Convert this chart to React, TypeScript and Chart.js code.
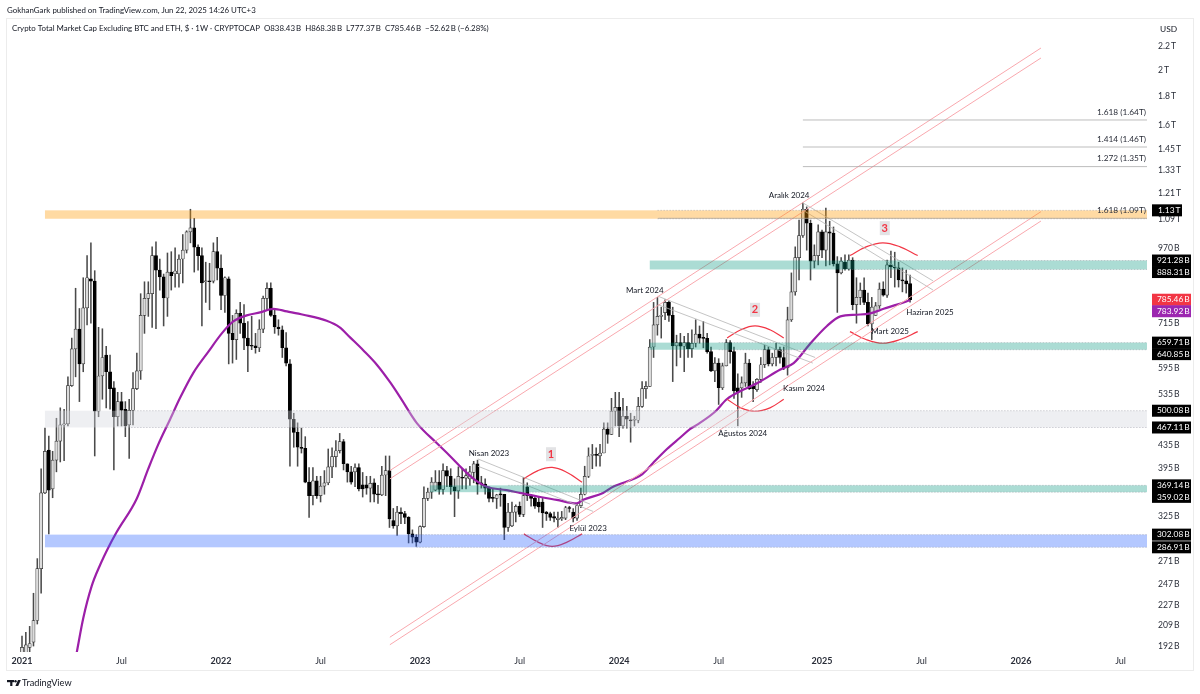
import React, { useEffect, useRef } from "react";
import { Chart, registerables } from "chart.js";

Chart.register(...registerables);

const opens = [187,187,191,195,213,263,358,426,364,409, 442,472,474,554,643,697,605,760,855,847, 499,576,627,586,549,488,519,503,472,501, 547,588,737,790,805,940,886,862,791,879, 873,873,927,961,1035,1052,973,940,845,847, 847,955,893,799,855,685,668,743,714,672, 651,651,646,697,790,823,737,703,695,646, 605,483,458,431,429,374,354,376,354,368, 373,398,415,425,441,403,390,390,397,370, 370,365,373,356,355,385,392,320,313,331, 329,324,303,299,293,312,350,359,362,374, 363,392,383,367,361,381,380,379,389,403, 373,371,365,351,350,356,356,311,313,331, 339,328,367,354,350,345,345,331,329,325, 321,322,323,337,331,323,340,356,383,417, 419,416,421,464,454,499,507,470,489,481, 481,481,509,547,552,648,709,734,745,777, 737,651,660,650,660,644,658,683,672,671, 636,588,607,549,600,660,636,549,549,560, 607,552,545,568,603,641,605,621,641,621, 596,724,811,932,1020,1135,1072,919,940,1035, 961,1035,1030,909,876,915,890,923,770,793, 817,777,712,737,766,820,800,905,898,894, 851,848,838.43];
const closes = [191,193,194,213,263,358,424,362,409,442, 472,474,554,643,697,605,760,859,847,499, 576,621,586,547,488,519,501,470,501,547, 588,737,790,805,940,886,862,791,879,866, 883,927,961,1035,1052,973,940,841,847,845, 955,893,799,859,685,668,743,714,672,651, 650,646,697,790,823,737,703,698,646,607, 483,458,431,429,374,354,376,354,368,373, 398,415,425,441,403,390,374,397,364,364, 365,372,356,355,385,392,322,313,331,329, 324,303,299,293,312,350,359,374,374,363, 392,383,367,361,383,380,384,390,403,371, 371,365,350,350,355,355,311,331,331,339, 328,354,354,350,339,338,330,329,324,323, 323,324,337,336,323,340,356,383,416,419, 417,421,464,454,499,507,470,489,483,480, 483,509,547,552,648,709,734,737,777,737, 651,660,650,660,644,658,683,672,671,636, 588,607,549,600,660,636,542,540,560,607, 547,547,568,603,641,605,621,641,621,596, 724,811,932,1020,1135,1072,919,940,1035,961, 1035,1030,909,876,919,890,923,770,793,817, 777,712,762,766,820,800,905,898,894,851, 848,838,785.46];
const highs = [200,203,208,238,274,395,466,451,424,485, 506,503,574,672,823,758,859,940,990,884, 702,698,650,627,563,539,539,519,524,584, 632,805,845,845,974,994,927,872,950,955, 970,943,1024,1040,1135,1094,982,970,915,911, 990,1012,943,862,862,737,754,777,770,719, 734,685,724,797,841,841,754,724,706,687, 616,495,476,466,450,397,397,383,383,392, 428,430,443,456,445,403,399,403,403,389, 383,383,379,369,399,416,416,336,339,337, 332,325,308,302,313,367,365,381,392,392, 403,399,395,379,398,395,395,399,407,409, 383,379,367,364,356,365,356,343,345,341, 345,381,373,356,354,352,350,332,331,331, 331,332,339,339,336,343,365,399,430,436, 430,436,476,476,526,539,539,526,509,495, 489,528,563,563,668,777,793,762,785,781, 762,680,685,677,685,695,724,706,719,685, 648,621,618,607,668,665,648,581,574,632, 616,563,570,621,653,648,632,658,648,648, 762,876,974,1086,1165,1146,1086,982,1065,1043, 1140,1081,1056,936,932,943,943,932,859,841, 859,807,793,777,841,845,923,957,953,915, 894,886,868.38];
const lows = [185,185,186,192,210,238,357,303,351,390, 406,408,470,552,574,519,586,709,714,416, 488,524,506,503,393,470,470,450,412,472, 545,568,685,734,702,698,817,706,734,817, 827,827,841,950,990,879,886,706,777,754, 841,851,754,746,605,607,616,685,641,586, 641,632,636,687,754,734,685,680,621,600, 399,431,399,421,373,324,341,350,345,356, 370,381,398,421,393,374,371,367,361,352, 356,345,345,343,354,354,311,310,301,316, 316,292,292,288,292,311,347,350,361,356, 356,367,356,325,350,364,364,369,373,356, 365,356,345,345,336,339,296,306,312,318, 325,325,347,339,336,331,311,320,320,318, 311,320,321,331,318,320,337,355,381,395, 399,399,421,438,454,470,450,466,466,440, 470,476,507,526,552,621,680,672,724,719, 563,600,621,586,621,621,648,658,646,632, 586,563,513,545,600,607,526,470,528,552, 545,519,541,561,596,600,600,600,607,591, 578,719,800,851,1012,961,851,894,905,932, 901,905,901,746,872,886,886,754,714,770, 770,706,668,737,758,797,793,859,827,827, 811,807,777.37];

const maWeeks = [14.3,16,18.2,20.4,22.6,24.7,30,33,35.6,38.7,41.3,44.8,48.7,52.2,55.2,58.7,62.2,65.7,69.2,73.5,79.6,83,85.7,89.2,92.7,96.2,98.8,103.1,108.4,111.8,114.9,118,121.4,126.6,130.1,135.4,139.7,144.9,146.6,151.8,154.4,162,164.8,168.5,171.9,174.5,176.3,181.2,184.1,188.5,192.4,198,201.6,206,210.3,213.8,218.1,221.6,225.1,228.6,232];
const maValues = [187,215,245,267,287,305,350,395,436,483,527,584,636,685,719,737,746,757,749,739,721,702,674,639,603,561,528,476,438,416,396,379,367,362,358,352,348,343,348,358,367,386,404,428,448,464,472,499,524,545,561,591,607,658,706,734,739,743,757,770,783.92];

const xTickWeeks = [0,26,52,78,104,130,156,182,209,235,261,287];
const xTickLabels = ["2021","Jul","2022","Jul","2023","Jul","2024","Jul","2025","Jul","2026","Jul"];
const yTicks = [192,209,227,247,271,325,395,435,535,595,715,880,970,1090,1210,1330,1450,1600,1800,2000,2200];

const zoneStart = [6,164,6,164,6,106.6];
const lineStart = [166,216,28.5,182,103,127];
const zoneHigh = [1130,921.28,500.08,659.71,302.08,369.14];
const zoneLow = [1092,888.31,467.11,640.85,286.91,359.02];
const zoneColor = ["rgba(255,152,0,.36)","rgba(8,153,129,.34)","rgba(209,212,220,.38)","rgba(8,153,129,.34)","rgba(41,98,255,.35)","rgba(8,153,129,.34)"];

const channelWeeks = [96.1,266.2];
const channelA = [392,2187];
const channelB = [379,2100];
const channelC = [199,1124];
const channelD = [193,1082];

const fallWeeks1 = [119.1,148.4];
const fallA = [411,342];
const fallWeeks1b = [119.1,149.2];
const fallB = [399,332];
const fallWeeks2 = [166.1,207.2];
const fallC = [797,621];
const fallWeeks2b = [166.1,206.6];
const fallD = [770,607];
const fallWeeks3 = [204,238];
const fallE = [1165,848];
const fallF = [1131,817];

const arc1Weeks = [131.1,134.8,138.5,142.4,146.3];
const arc1Top = [379,392,397,389,374];
const arc1Bot = [303,293,288,293,303];
const arc2Weeks = [184.2,187.8,191.5,195.4,199];
const arc2Top = [672,695,706,695,672];
const arc2Bot = [524,506,499,506,524];
const arc3Weeks = [216.3,220.5,224.9,229.4,234];
const arc3Top = [940,974,990,974,940];
const arc3Bot = [690,668,658,668,690];

const fibStart = [204,204,204,166.2];
const fibValues = [1632,1462,1350,1094];
const fibLabels = ["1.618 (1.64T)","1.414 (1.46T)","1.272 (1.35T)","1.618 (1.09T)"];

const noteTexts = ["Nisan 2023","Eylül 2023","Mart 2024","Ağustos 2024","Kasım 2024","Aralık 2024","Mart 2025","Haziran 2025"];
const noteWeeks = [122,147.9,162.7,188.3,204.3,200.4,226.8,237.2];
const noteValues = [421,310,817,456,547,1199,690,746];

const badgeTexts = ["1","2","3"];
const badgeWeeks = [138.2,191.5,225.4];
const badgeValues = [419,754,1051];

const priceTexts = ["1.13\u2009T","921.28\u2009B","888.31\u2009B","785.46\u2009B","783.92\u2009B","659.71\u2009B","640.85\u2009B","500.08\u2009B","467.11\u2009B","369.14\u2009B","359.02\u2009B","302.08\u2009B","286.91\u2009B"];
const priceValues = [1130,921.28,888.31,785.46,783.92,659.71,640.85,500.08,467.11,369.14,359.02,302.08,286.91];
const priceFill = ["#000","#000","#000","#f23645","#9c27b0","#000","#000","#000","#000","#000","#000","#000","#000"];

const FONT = 'Lato, sans-serif';

const pts = (xs: number[], ys: number[]) => xs.map((x, i) => ({ x, y: ys[i] }));
const lineSet = (data: any[], color: string, width: number, tension = 0) => ({
  type: "line", data, borderColor: color, borderWidth: width, pointRadius: 0, tension, order: 0, fill: false,
});

const annotate = {
  id: "annotate",
  afterDatasetsDraw(chart: any) {
    const { ctx, scales: { x, y }, chartArea: a } = chart;
    ctx.save();
    ctx.beginPath();
    ctx.rect(a.left, a.top, a.right - a.left, a.bottom - a.top);
    ctx.clip();
    zoneHigh.forEach((hi, i) => {
      const x0 = x.getPixelForValue(zoneStart[i]);
      const xl = x.getPixelForValue(lineStart[i]);
      const y0 = y.getPixelForValue(hi);
      const y1 = y.getPixelForValue(zoneLow[i]);
      ctx.fillStyle = zoneColor[i];
      ctx.fillRect(x0, y0, a.right - x0, y1 - y0);
      ctx.strokeStyle = "rgba(120,123,134,.55)";
      ctx.lineWidth = 0.6;
      ctx.setLineDash([1.5, 1.5]);
      ctx.beginPath();
      ctx.moveTo(xl, y0); ctx.lineTo(a.right, y0);
      ctx.moveTo(xl, y1); ctx.lineTo(a.right, y1);
      ctx.stroke();
      ctx.setLineDash([]);
    });
    ctx.strokeStyle = "#a0a0a0";
    ctx.lineWidth = 0.7;
    ctx.font = `8.3px ${FONT}`;
    ctx.textAlign = "right";
    ctx.textBaseline = "middle";
    fibValues.forEach((v, i) => {
      const py = y.getPixelForValue(v);
      ctx.beginPath();
      ctx.moveTo(x.getPixelForValue(fibStart[i]), py);
      ctx.lineTo(a.right, py);
      ctx.stroke();
      ctx.fillStyle = "#2a2e39";
      ctx.fillText(fibLabels[i], a.right - 1, py - 8);
    });
    ctx.textAlign = "center";
    ctx.fillStyle = "#131722";
    ctx.font = `8px ${FONT}`;
    noteTexts.forEach((t, i) => ctx.fillText(t, x.getPixelForValue(noteWeeks[i]), y.getPixelForValue(noteValues[i])));
    badgeTexts.forEach((t, i) => {
      const px = x.getPixelForValue(badgeWeeks[i]);
      const py = y.getPixelForValue(badgeValues[i]);
      ctx.fillStyle = "#e3e3e5";
      ctx.fillRect(px - 5, py - 7, 10, 14);
      ctx.fillStyle = "#f23645";
      ctx.font = `bold 11px ${FONT}`;
      ctx.fillText(t, px, py);
    });
    ctx.restore();
  },
  afterDraw(chart: any) {
    const { ctx, scales: { y }, chartArea: a, width } = chart;
    ctx.save();
    ctx.strokeStyle = "#ececec";
    ctx.lineWidth = 1;
    ctx.strokeRect(6.5, 18.5, 1187, 652);
    ctx.textBaseline = "middle";
    ctx.font = `8.4px ${FONT}`;
    let prev = -100;
    priceValues.forEach((v, i) => {
      let py = y.getPixelForValue(v);
      if (py - prev < 11.5) py = prev + 11.5;
      prev = py;
      const isT = priceTexts[i].endsWith("T");
      ctx.fillStyle = priceFill[i];
      ctx.fillRect(a.right + 5, py - 6, isT ? 30 : 39, 12);
      ctx.fillStyle = "#fff";
      ctx.textAlign = "left";
      ctx.fillText(priceTexts[i], a.right + (isT ? 11 : 10), py);
    });
    ctx.fillStyle = "#131722";
    ctx.textAlign = "left";
    ctx.font = `7.9px ${FONT}`;
    ctx.fillText("GokhanGark published on TradingView.com, Jun 22, 2025 14:26 UTC+3", 7, 10);
    ctx.font = `7.9px ${FONT}`;
    ctx.fillText("Crypto Total Market Cap Excluding BTC and ETH, $ · 1W · CRYPTOCAP  O838.43\u2009B  H868.38\u2009B  L777.37\u2009B  C785.46\u2009B  −52.62\u2009B (−6.28%)", 12, 28);
    ctx.font = `8.4px ${FONT}`;
    ctx.fillText("USD", width - 40, 29);
    ctx.fillRect(7, 680, 7, 2.2);
    ctx.fillRect(10.2, 680, 2.2, 6);
    ctx.beginPath(); ctx.arc(15.5, 681.2, 1.2, 0, Math.PI * 2); ctx.fill();
    ctx.beginPath(); ctx.moveTo(18, 680); ctx.lineTo(20.8, 680); ctx.lineTo(18.2, 686); ctx.lineTo(15.4, 686); ctx.closePath(); ctx.fill();
    ctx.font = `9.2px ${FONT}`;
    ctx.fillText("TradingView", 22, 683);
    ctx.restore();
  },
};

export default function App() {
  const ref = useRef<HTMLCanvasElement>(null);
  useEffect(() => {
    document.body.style.margin = "0";
    document.body.style.background = "#fff";
    const weeks = opens.map((_, i) => i);
    const chart = new Chart(ref.current as any, {
      data: {
        datasets: [
          { type: "bar", data: weeks.map((i) => ({ x: i, y: [lows[i], highs[i]] })), backgroundColor: "#4a4a4a", borderWidth: 0, barThickness: 0.9, grouped: false, order: 3 },
          {
            type: "bar",
            data: weeks.map((i) => ({ x: i, y: [opens[i], closes[i]] })),
            backgroundColor: weeks.map((i) => (closes[i] >= opens[i] ? "#dcdcdc" : "#000")),
            borderColor: weeks.map((i) => (closes[i] >= opens[i] ? "#333" : "#000")),
            borderWidth: 0.7,
            borderSkipped: false,
            barThickness: 3.2,
            minBarLength: 1,
            grouped: false,
            order: 2,
          },
          { ...lineSet(pts(maWeeks, maValues), "#9c1fa8", 2.2), cubicInterpolationMode: "monotone", order: 1 },
          lineSet(pts(channelWeeks, channelA), "#f9a8ae", 1),
          lineSet(pts(channelWeeks, channelB), "#f9a8ae", 1),
          lineSet(pts(channelWeeks, channelC), "#f9a8ae", 1),
          lineSet(pts(channelWeeks, channelD), "#f9a8ae", 1),
          lineSet(pts(fallWeeks1, fallA), "#b5b5b5", 0.8),
          lineSet(pts(fallWeeks1b, fallB), "#b5b5b5", 0.8),
          lineSet(pts(fallWeeks2, fallC), "#b5b5b5", 0.8),
          lineSet(pts(fallWeeks2b, fallD), "#b5b5b5", 0.8),
          lineSet(pts(fallWeeks3, fallE), "#b5b5b5", 0.8),
          lineSet(pts(fallWeeks3, fallF), "#b5b5b5", 0.8),
          lineSet(pts(arc1Weeks, arc1Top), "#f23645", 1.2, 0.4),
          lineSet(pts(arc1Weeks, arc1Bot), "#f23645", 1.2, 0.4),
          lineSet(pts(arc2Weeks, arc2Top), "#f23645", 1.2, 0.4),
          lineSet(pts(arc2Weeks, arc2Bot), "#f23645", 1.2, 0.4),
          lineSet(pts(arc3Weeks, arc3Top), "#f23645", 1.2, 0.4),
          lineSet(pts(arc3Weeks, arc3Bot), "#f23645", 1.2, 0.4),
        ] as any,
      },
      options: {
        responsive: false,
        animation: false,
        devicePixelRatio: 1,
        layout: { padding: { left: 6, right: 7, top: 18, bottom: 24 } },
        plugins: { legend: { display: false }, tooltip: { enabled: false }, title: { display: false } },
        scales: {
          x: {
            type: "linear",
            offset: false,
            min: -4.18,
            max: 293.9,
            grid: { display: false, drawTicks: false },
            border: { display: false },
            afterBuildTicks: (s: any) => { s.ticks = xTickWeeks.map((value) => ({ value })); },
            afterFit: (s: any) => { s.height = 18; },
            ticks: {
              autoSkip: false,
              maxRotation: 0,
              padding: 4,
              color: "#2a2e39",
              font: (c: any) => ({ family: FONT, size: 9, weight: String(xTickLabels[xTickWeeks.indexOf(c.tick?.value)]).startsWith("20") ? "bold" : "normal" }),
              callback: (v: any) => xTickLabels[xTickWeeks.indexOf(v)] ?? "",
            },
          },
          y: {
            type: "logarithmic",
            position: "right",
            min: 187.4,
            max: 2471,
            grid: { display: false, drawTicks: false },
            border: { display: false },
            afterBuildTicks: (s: any) => { s.ticks = yTicks.map((value) => ({ value })); },
            afterFit: (s: any) => { s.width = 46; },
            ticks: {
              autoSkip: false,
              padding: 11,
              color: "#2a2e39",
              font: { family: FONT, size: 8.6 },
              callback: (v: any) => (v >= 1000 ? `${v / 1000}\u2009T` : `${v}\u2009B`),
            },
          },
        },
      } as any,
      plugins: [annotate],
    });
    return () => chart.destroy();
  }, []);
  return (
    <div style={{ position: "absolute", left: 0, top: 0, width: 1200, height: 694 }}>
      <canvas ref={ref} width={1200} height={694} style={{ display: "block" }} />
    </div>
  );
}
